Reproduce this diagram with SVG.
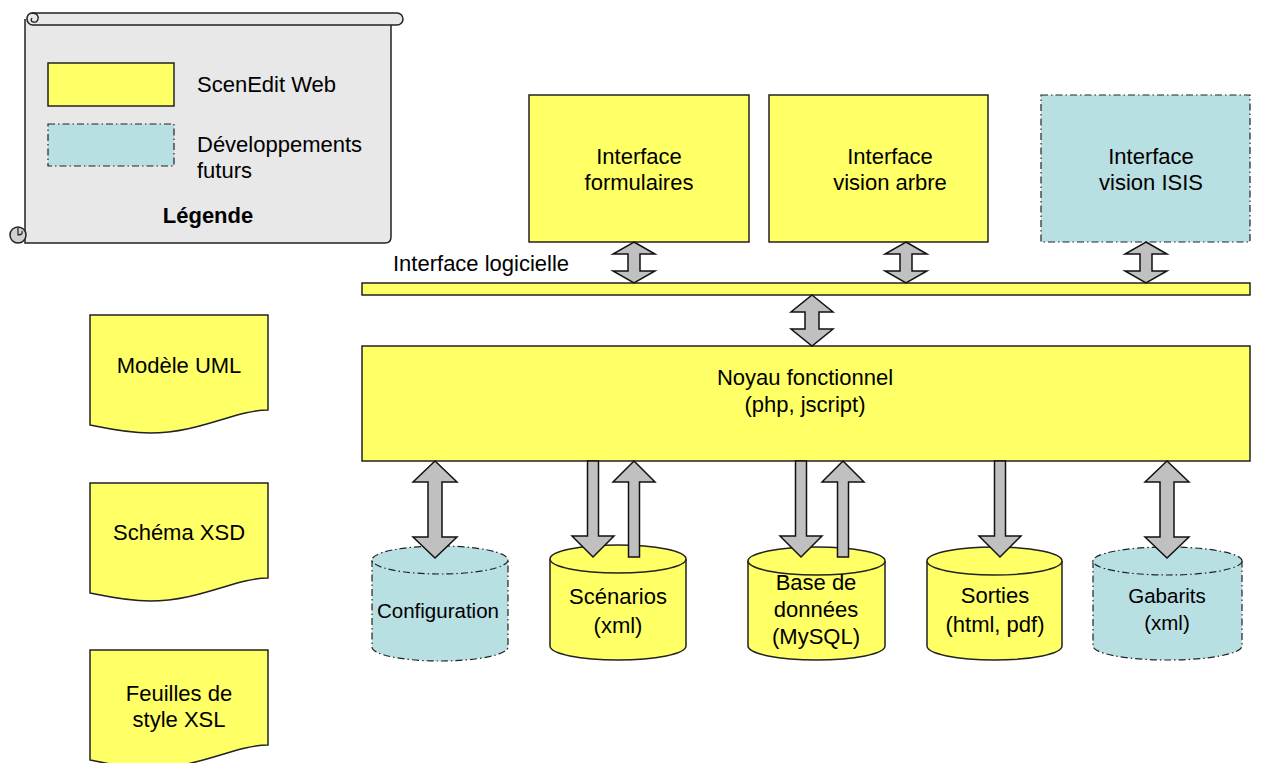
<svg xmlns="http://www.w3.org/2000/svg" width="1263" height="763" viewBox="0 0 1263 763">
<style>
text{font-family:"Liberation Sans",Arial,sans-serif;font-size:22px;fill:#000}
.c{text-anchor:middle}
.y{fill:#FFFF66;stroke:#222;stroke-width:1.5}
.b{fill:#B8DFE2;stroke:#222;stroke-width:1.2;stroke-dasharray:7,3,1.5,3}
.a{fill:#C0C0C0;stroke:#111;stroke-width:1.5;stroke-linejoin:miter}
.s{font-size:20.5px}
</style>
<rect width="1263" height="763" fill="#fff"/>

<g id="legende">
<path d="M25,19 V243 H385 Q391,243 391,237 V25" fill="#E8E8E8" stroke="#222" stroke-width="1.5"/>
<rect x="27" y="13" width="376" height="12" rx="6" fill="#E8E8E8" stroke="#222" stroke-width="1.5"/>
<path d="M27,19 Q27,13 33,13 Q39,14 38,19 Q37,23 33,22 Q30,21 32,18" fill="#E8E8E8" stroke="#222" stroke-width="1.3"/>
<circle cx="18" cy="235" r="8" fill="#D0D0D0" stroke="#222" stroke-width="1.5"/>
<path d="M18,228 V235 Q23,235 22,231" fill="none" stroke="#222" stroke-width="1.2"/>
<rect x="48" y="63" width="126" height="43" class="y"/>
<rect x="48" y="124" width="126" height="42" class="b"/>
<text x="197" y="92">ScenEdit Web</text>
<text x="197" y="152">Développements</text>
<text x="197" y="178">futurs</text>
<text x="208" y="223" class="c" font-weight="bold">Légende</text>
</g>

<g id="modele-uml">
<path d="M90,315 H268 V410 C235,410 200,433 150,433 C125,433 105,428 90,425 Z" class="y"/>
<text x="179" y="373" class="c">Modèle UML</text>
</g>
<g id="schema-xsd">
<path d="M90,483 H268 V578 C235,578 200,601 150,601 C125,601 105,596 90,593 Z" class="y"/>
<text x="179" y="540" class="c">Schéma XSD</text>
</g>
<g id="feuilles-xsl">
<path d="M90,650 H268 V745 C235,745 200,768 150,768 C125,768 105,763 90,760 Z" class="y"/>
<text x="179" y="701" class="c">Feuilles de</text>
<text x="179" y="727" class="c">style XSL</text>
</g>

<g id="interface-formulaires">
<rect x="529" y="95" width="220" height="147" class="y"/>
<text x="639" y="164" class="c">Interface</text>
<text x="639" y="190" class="c">formulaires</text>
</g>
<g id="interface-arbre">
<rect x="769" y="95" width="219" height="147" class="y"/>
<text x="890" y="164" class="c">Interface</text>
<text x="890" y="190" class="c">vision arbre</text>
</g>
<g id="interface-isis">
<rect x="1041" y="95" width="209" height="147" class="b"/>
<text x="1151" y="164" class="c">Interface</text>
<text x="1151" y="190" class="c">vision ISIS</text>
</g>

<g id="interface-logicielle">
<text x="393" y="271">Interface logicielle</text>
<rect x="362" y="283" width="888" height="12" class="y"/>
</g>

<g id="noyau">
<rect x="362" y="346" width="888" height="115" class="y"/>
<text x="805" y="385" class="c">Noyau fonctionnel</text>
<text x="805" y="412" class="c">(php, jscript)</text>
</g>

<g id="configuration">
<path d="M372,560 V647 A68,14 0 0 0 508,647 V560" class="b"/>
<ellipse cx="440" cy="560" rx="68" ry="14" class="b"/>
<text x="438" y="618" class="c s">Configuration</text>
</g>
<g id="scenarios">
<path d="M550,559 V646 A68,14 0 0 0 686,646 V559" class="y"/>
<ellipse cx="618" cy="559" rx="68" ry="14" class="y"/>
<text x="618" y="604" class="c">Scénarios</text>
<text x="618" y="633" class="c">(xml)</text>
</g>
<g id="base-de-donnees">
<path d="M748,561 V646 A68.5,14 0 0 0 885,646 V561" class="y"/>
<ellipse cx="816.5" cy="561" rx="68.5" ry="14" class="y"/>
<text x="816" y="590" class="c">Base de</text>
<text x="816" y="617" class="c">données</text>
<text x="816" y="644" class="c">(MySQL)</text>
</g>
<g id="sorties">
<path d="M927,561 V646 A67.5,14 0 0 0 1062,646 V561" class="y"/>
<ellipse cx="994.5" cy="561" rx="67.5" ry="14" class="y"/>
<text x="995" y="603" class="c">Sorties</text>
<text x="995" y="632" class="c">(html, pdf)</text>
</g>
<g id="gabarits">
<path d="M1093,561 V646 A74.5,14 0 0 0 1242,646 V561" class="b"/>
<ellipse cx="1167.5" cy="561" rx="74.5" ry="14" class="b"/>
<text x="1167" y="603" class="c s">Gabarits</text>
<text x="1167" y="630" class="c s">(xml)</text>
</g>

<g id="connecteurs">
<path class="a" d="M634,242 L655,254 L640,254 L640,271 L655,271 L634,283 L613,271 L628,271 L628,254 L613,254 Z"/>
<path class="a" d="M906,242 L927,254 L912,254 L912,271 L927,271 L906,283 L885,271 L900,271 L900,254 L885,254 Z"/>
<path class="a" d="M1146,242 L1167,254 L1152,254 L1152,271 L1167,271 L1146,283 L1125,271 L1140,271 L1140,254 L1125,254 Z"/>
<path class="a" d="M812,295 L833,312 L819,312 L819,329 L833,329 L812,346 L791,329 L805,329 L805,312 L791,312 Z"/>
<path class="a" d="M435,461 L457,482 L442,482 L442,537 L457,537 L435,558 L413,537 L428,537 L428,482 L413,482 Z"/>
<path class="a" d="M587.5,461 H598.5 V536 H614 L593,557 L572,536 H587.5 Z"/>
<path class="a" d="M634,461 L655,482 L639.5,482 V557 H628.5 V482 L613,482 Z"/>
<path class="a" d="M795.5,461 H806.5 V536 H822 L801,557 L780,536 H795.5 Z"/>
<path class="a" d="M843,461 L864,482 L848.5,482 V557 H837.5 V482 L822,482 Z"/>
<path class="a" d="M994.5,461 H1005.5 V536 H1021 L1000,557 L979,536 H994.5 Z"/>
<path class="a" d="M1167,461 L1189,482 L1174,482 L1174,537 L1189,537 L1167,558 L1145,537 L1160,537 L1160,482 L1145,482 Z"/>
</g>
</svg>
